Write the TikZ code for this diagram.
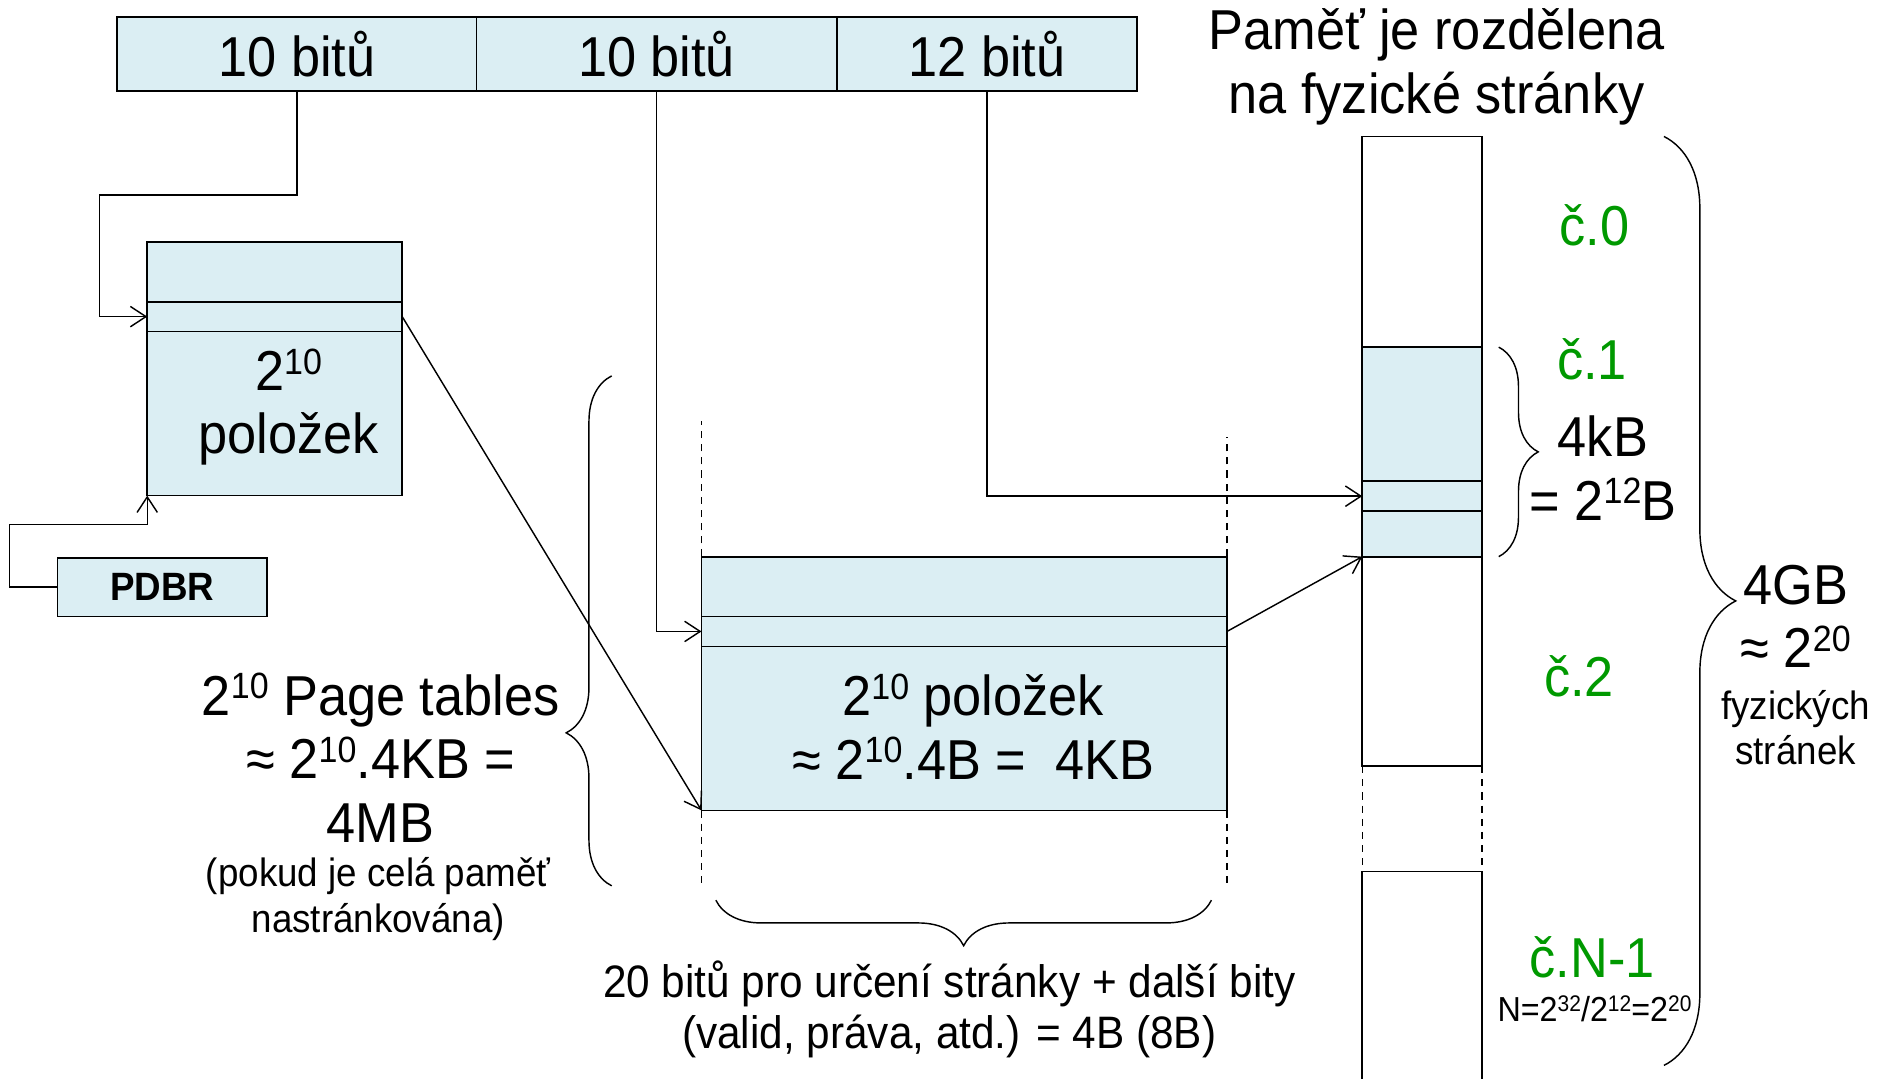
\documentclass[tikz,border=0pt]{standalone}
\usepackage{fontspec}
\usepackage{graphicx}
\setmainfont[FakeStretch=0.93]{Liberation Sans}
\usetikzlibrary{arrows.meta,positioning,decorations.pathreplacing}
\definecolor{tabblue}{RGB}{219,238,243}
\definecolor{pagegreen}{RGB}{0,153,0}
\newcommand\expo[1]{\raisebox{0.29em}{\scalebox{0.65}{#1}}}

\begin{document}
\begin{tikzpicture}[x=1pt,y=-1pt,>={Straight Barb[length=13pt,width=17pt]},
  cell/.style={draw,line width=1.5pt,fill=tabblue,inner sep=0pt,outer sep=0pt},
  frame/.style={draw,line width=1.5pt,fill=white,inner sep=0pt,outer sep=0pt,minimum width=100pt},
  arr/.style={->,line width=1.2pt},
  dsh/.style={line width=1.2pt,dash pattern=on 6pt off 5pt},
  brc/.style={decorate,decoration={brace,amplitude=#1},line width=1.2pt},
  big/.style={font=\fontsize{47}{53}\selectfont,align=center,inner sep=0pt},
  mid/.style={font=\fontsize{38}{43}\selectfont,align=center,inner sep=0pt},
  sml/.style={font=\fontsize{33}{38}\selectfont,align=center,inner sep=0pt},
  num/.style={big,text=pagegreen}]
\useasboundingbox (0,0) rectangle (1568,901);
% virtual address
\node[cell,big,minimum width=300pt,minimum height=62pt] (f1) at (248,45) {10 bitů};
\node[cell,big,minimum width=301pt,minimum height=62pt] (f2) at (548.5,45) {10 bitů};
\node[cell,big,minimum width=251pt,minimum height=62pt] (f3) at (824.5,45) {12 bitů};
% page directory
\node[cell,minimum width=213pt,minimum height=50pt] (d1) at (229.5,227) {};
\node[cell,minimum width=213pt,minimum height=25pt,below=0pt of d1] (d2) {};
\node[cell,minimum width=213pt,minimum height=137pt,below=0pt of d2] (d3) {};
\node[big] (dtx) at (241,340) {2\expo{10}\\položek};
\node[cell,minimum width=175pt,minimum height=49pt,font=\fontsize{33}{38}\selectfont\bfseries] (pdbr) at (135.5,490.5) {PDBR};
% page table
\node[cell,minimum width=439pt,minimum height=50pt] (p1) at (805.5,490) {};
\node[cell,minimum width=439pt,minimum height=25pt,below=0pt of p1] (p2) {};
\node[cell,minimum width=439pt,minimum height=137pt,below=0pt of p2] (p3) {};
\node[big] (ptx) at (813,607) {2\expo{10} položek\\≈ 2\expo{10}.4B = \ 4KB};
% physical memory
\node[frame,minimum height=176pt] (m0) at (1188,202) {};
\node[cell,minimum width=100pt,minimum height=112pt,below=0pt of m0] (m1a) {};
\node[cell,minimum width=100pt,minimum height=25pt,below=0pt of m1a] (m1b) {};
\node[cell,minimum width=100pt,minimum height=38pt,below=0pt of m1b] (m1c) {};
\node[frame,minimum height=175pt,below=0pt of m1c] (m2) {};
\coordinate (mnl) at (1138,728);
\coordinate (mnr) at (1238,728);
\draw[line width=1.5pt] (mnl |- 0,901) -- (mnl) -- (mnr) -- (mnr |- 0,901);
\draw[dsh] (m2.south west) -- (mnl);
\draw[dsh] (m2.south east) -- (mnr);
% connectors
\coordinate (k1) at (83,163);
\draw[arr] (f1.south) |- (k1) |- (d2.west);
\coordinate (k2) at (8,438);
\draw[arr] (pdbr.west) -| (k2) -| (d3.south west);
\draw[arr] (d2.east) -- (p3.south west);
\draw[arr] (f2.south) |- (p2.west);
\draw[arr] (f3.south) |- (m1b.west);
\draw[arr] (p2.east) -- (m1c.south west);
\draw[dsh] (p1.north west) -- ++(0,-113);
\draw[dsh] (p1.north east) -- ++(0,-100);
\draw[dsh] (p3.south west) -- ++(0,61);
\draw[dsh] (p3.south east) -- ++(0,61);
% braces
\draw[brc=38pt,decoration={aspect=0.3}] (511,740) -- (511,314);
\draw[brc=38pt] (1012,752) -- (598,752);
\draw[brc=33pt] (1252,290) -- (1252,465);
\draw[brc=60pt] (1390,114) -- (1390,890);
% labels
\node[big] (title) at (1200,56) {Paměť je rozdělena\\na fyzické stránky};
\node[num] (c0) at (1332,188) {č.0};
\node[num] (c1) at (1330,300) {č.1};
\node[num] (c2) at (1319,565) {č.2};
\node[num] (cn) at (1330,800) {č.N-1};
\node[font=\fontsize{29}{32}\selectfont,inner sep=0pt] (nn) at (1332,843) {N=2\expo{32}/2\expo{12}=2\expo{20}};
\node[big] (kb) at (1339,391) {4kB\\= 2\expo{12}B};
\node[big] (gb) at (1500,515) {4GB\\≈ 2\expo{20}};
\node[sml] (fz) at (1500,608) {fyzických\\stránek};
\node[big] (ptab) at (318,633) {2\expo{10} Page tables\\≈ 2\expo{10}.4KB =\\4MB};
\node[sml] (pok) at (316,751) {(pokud je celá paměť\\nastránkována)};
\node[mid] (bits) at (793,843) {20 bitů pro určení stránky + další bity\\(valid, práva, atd.) = 4B (8B)};
\end{tikzpicture}
\end{document}
